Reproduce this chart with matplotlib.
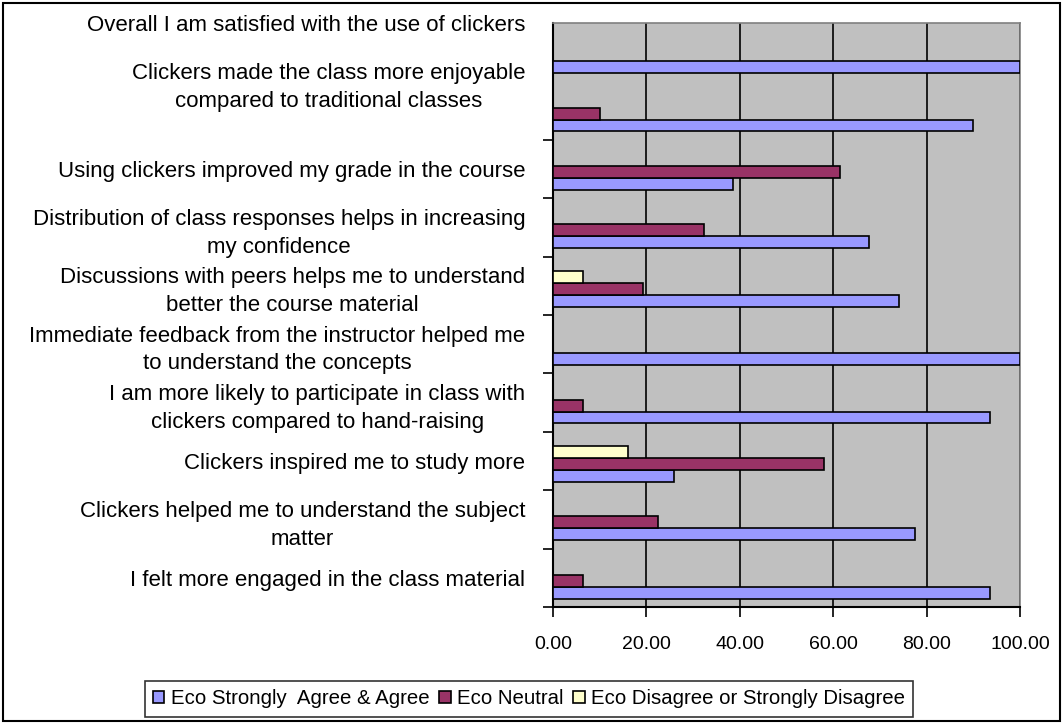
import matplotlib
matplotlib.use("Agg")
from matplotlib import pyplot as plt
from matplotlib.patches import Rectangle
import numpy as np

plt.rcParams['font.family'] = ['Liberation Sans', 'DejaVu Sans']

# categories from bottom to top
questions = [
    "I felt more engaged in the class material",
    "Clickers helped me to understand the subject\nmatter",
    "Clickers inspired me to study more",
    "I am more likely to participate in class with\nclickers compared to hand-raising",
    "Immediate feedback from the instructor helped me\nto understand the concepts",
    "Discussions with peers helps me to understand\nbetter the course material",
    "Distribution of class responses helps in increasing\nmy confidence",
    "Using clickers improved my grade in the course",
    "Clickers made the class more enjoyable\ncompared to traditional classes",
    "Overall I am satisfied with the use of clickers",
]
agree = [93.55, 77.42, 25.81, 93.55, 100.0, 74.19, 67.74, 38.5, 90.0, 100.0]
neutral = [6.45, 22.58, 58.06, 6.45, 0.0, 19.35, 32.26, 61.5, 10.0, 0.0]
disagree = [0.0, 0.0, 16.13, 0.0, 0.0, 6.45, 0.0, 0.0, 0.0, 0.0]
series_names = ["Eco Strongly  Agree & Agree", "Eco Neutral", "Eco Disagree or Strongly Disagree"]
xticks = [0, 20, 40, 60, 80, 100]

# label shift (Excel pushed the top two labels up)
label_shift = [0, 0, 0, 0, 0, 0, 0, 0, 0.5, 0.5]

fig = plt.figure(figsize=(10.63, 7.24), dpi=100)
ax = fig.add_axes([553/1063, 1-607/724, (1020-553)/1063, (607-23)/724])
ax.set_facecolor('#C0C0C0')

y = np.arange(len(questions))
h = 0.205
cols = ['#9999FF', '#993366', '#FFFFCC']
for k, (vals, c) in enumerate(zip([agree, neutral, disagree], cols)):
    ax.barh(y + (k - 1) * h - 0.05, vals, height=h, color=c, edgecolor='black',
            linewidth=1.2, label=series_names[k], zorder=3)

ax.set_xlim(0, 100)
ax.set_ylim(-0.5, len(questions) - 0.5)
ax.set_xticks(xticks)
ax.set_xticklabels(["%.2f" % v for v in xticks], fontsize=14)
ax.xaxis.grid(True, color='black', linewidth=1.2, zorder=1)
ax.tick_params(axis='x', direction='out', length=7, width=1.2, pad=14)

ax.set_yticks(y + np.array(label_shift))
ax.set_yticklabels(questions, fontsize=16, multialignment='center', linespacing=1.42)
ax.set_yticks(np.arange(-0.5, len(questions)), minor=True)
ax.tick_params(axis='y', which='major', length=0, pad=20)
ax.tick_params(axis='y', which='minor', direction='out', length=7, width=1.2)

for s in ['left', 'bottom']:
    ax.spines[s].set_color('black')
    ax.spines[s].set_linewidth(1.5)
for s in ['top', 'right']:
    ax.spines[s].set_color('#808080')
    ax.spines[s].set_linewidth(1.2)

leg = fig.legend(loc='center', bbox_to_anchor=(529/1063, 1-699/724), ncol=3,
                 fontsize=14.7, frameon=True, fancybox=False, handlelength=0.55,
                 handleheight=0.55, handletextpad=0.3, columnspacing=0.5,
                 borderpad=0.4)
leg.get_frame().set_edgecolor('black')
leg.get_frame().set_linewidth(1.2)

fig.patches.append(Rectangle((0.003, 0.004), 0.994, 0.992, transform=fig.transFigure,
                             fill=False, edgecolor='black', linewidth=1.5))

fig.savefig('out.png', dpi=100)
